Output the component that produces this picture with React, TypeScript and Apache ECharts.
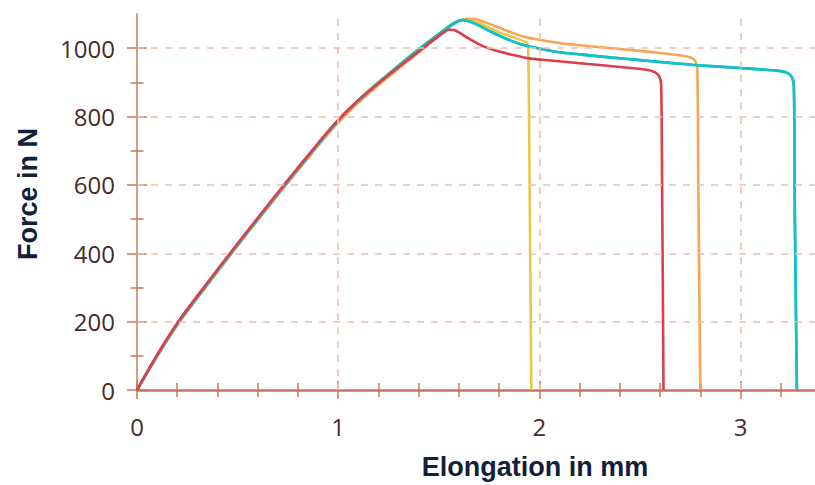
import React, { useEffect, useRef } from "react";
import * as echarts from "echarts";

// ---- tick / label values ----
const xLabelValues = [0, 1, 2, 3];
const xMajorTicks = [0, 1, 2, 3];
const xMinorTicks = [0.2, 0.4, 0.6, 0.8, 1.2, 1.4, 1.6, 1.8, 2.2, 2.4, 2.6, 2.8, 3.2];
const yLabelValues = [0, 200, 400, 600, 800, 1000];
const yMajorTicks = [0, 200, 400, 600, 800, 1000];
const yMinorTicks = [100, 300, 500, 700, 900];
const xGridValues = [1, 2, 3];
const yGridValues = [200, 400, 600, 800, 1000];

// ---- specimen curves: [elongation mm, force N] ----
const orangeCurve = [
  [0, 0], [0.1, 97], [0.207, 195], [0.34, 299], [0.47, 399], [0.605, 500], [0.74, 599],
  [0.875, 696], [0.96, 756], [1.04, 806], [1.12, 851], [1.224, 903], [1.32, 950],
  [1.415, 995], [1.5, 1035], [1.56, 1064], [1.6, 1079], [1.64, 1086], [1.68, 1085],
  [1.74, 1074], [1.8, 1060], [1.87, 1044], [1.94, 1031], [2.1, 1015], [2.3, 1003],
  [2.5, 992], [2.6, 986], [2.7, 979], [2.75, 973], [2.775, 962], [2.785, 940],
  [2.79, 600], [2.8, 0],
];
const yellowCurve = [
  [0, 0], [0.1, 99], [0.207, 197], [0.34, 301], [0.47, 401], [0.605, 502], [0.74, 602],
  [0.875, 699], [0.96, 760], [1.04, 811], [1.12, 856], [1.224, 909], [1.32, 956],
  [1.415, 1001], [1.5, 1040], [1.56, 1067], [1.6, 1080], [1.63, 1084], [1.67, 1080],
  [1.73, 1066], [1.8, 1047], [1.87, 1032], [1.925, 1020], [1.94, 1014], [1.945, 990],
  [1.95, 700], [1.96, 0],
];
const greenCurve = [
  [0, 0], [0.1, 101], [0.207, 200], [0.34, 304], [0.47, 404], [0.605, 505], [0.74, 605],
  [0.875, 702], [0.96, 763], [1.04, 814], [1.12, 859], [1.224, 912], [1.32, 959],
  [1.415, 1004], [1.5, 1042], [1.55, 1064], [1.59, 1078], [1.62, 1082], [1.65, 1079],
  [1.7, 1066], [1.76, 1048], [1.83, 1029], [1.9, 1013], [1.97, 1003], [2.1, 988],
  [2.2, 982], [2.35, 973], [2.5, 965], [2.65, 957], [2.786, 950], [3.0, 942],
  [3.2, 933], [3.235, 927], [3.255, 915], [3.265, 890], [3.27, 500], [3.28, 0],
];
const cyanCurve = [
  [0, 0], [0.1, 100], [0.207, 198], [0.34, 302], [0.47, 402], [0.605, 503], [0.74, 603],
  [0.875, 700], [0.96, 761], [1.04, 812], [1.12, 857], [1.224, 910], [1.32, 957],
  [1.415, 1002], [1.5, 1040], [1.55, 1062], [1.59, 1077], [1.62, 1082], [1.65, 1079],
  [1.7, 1066], [1.76, 1048], [1.83, 1029], [1.9, 1013], [1.97, 1003], [2.1, 988],
  [2.2, 982], [2.35, 973], [2.5, 965], [2.65, 957], [2.786, 950], [3.0, 942],
  [3.2, 933], [3.235, 927], [3.255, 915], [3.265, 890], [3.27, 500], [3.28, 0],
];
const redCurve = [
  [0, 0], [0.1, 103], [0.207, 202], [0.34, 306], [0.47, 406], [0.605, 507], [0.74, 607],
  [0.875, 704], [0.96, 764], [1.04, 814], [1.12, 858], [1.224, 909], [1.32, 954],
  [1.4, 990], [1.46, 1018], [1.5, 1036], [1.53, 1048], [1.55, 1054], [1.575, 1053],
  [1.6, 1046], [1.65, 1028], [1.72, 1006], [1.8, 990], [1.87, 980], [1.94, 971],
  [2.07, 963], [2.2, 956], [2.4, 945], [2.54, 936], [2.575, 929], [2.595, 918],
  [2.605, 895], [2.61, 600], [2.617, 0],
];

const specimens = [
  { name: "orange", data: orangeCurve, color: "#f6a556" },
  { name: "yellow", data: yellowCurve, color: "#e8c744" },
  { name: "green", data: greenCurve, color: "#22c25c" },
  { name: "cyan", data: cyanCurve, color: "#12bfd3" },
  { name: "red", data: redCurve, color: "#de3d4c" },
];

const X_MAX = 3.37;
const Y_MAX = 1100;
const tickColor = "#c4775f";
const labelColor = "#4a2a2a";
const titleColor = "#12203a";
const gridColor = "#edbfae";

export default function App() {
  const ref = useRef<HTMLDivElement>(null);

  useEffect(() => {
    document.body.style.margin = "0";
    if (!ref.current) return;
    const chart = echarts.init(ref.current, null, { renderer: "svg" });

    const labelStyle = {
      fontSize: 24,
      color: labelColor,
      fontFamily: "'Open Sans', 'Noto Sans', sans-serif",
      formatter: (v: number) => String(v),
    };

    const tickAxisX = (values: number[], half: number) => ({
      type: "value",
      min: 0,
      max: X_MAX,
      position: "bottom",
      offset: -half,
      axisLine: { show: false, onZero: false },
      axisLabel: { show: false },
      splitLine: { show: false },
      axisTick: {
        show: true,
        customValues: values,
        length: half * 2,
        lineStyle: { color: tickColor, width: 1.5 },
      },
    });
    const tickAxisY = (values: number[], half: number) => ({
      type: "value",
      min: 0,
      max: Y_MAX,
      position: "left",
      offset: -half,
      axisLine: { show: false, onZero: false },
      axisLabel: { show: false },
      splitLine: { show: false },
      axisTick: {
        show: true,
        customValues: values,
        length: half * 2,
        lineStyle: { color: tickColor, width: 1.5 },
      },
    });

    const option: any = {
      animation: false,
      backgroundColor: "#ffffff",
      grid: { left: 137, right: 0, top: 14, bottom: 95, containLabel: false },
      xAxis: [
        {
          type: "value",
          min: 0,
          max: X_MAX,
          position: "bottom",
          axisLine: { show: true, onZero: false, lineStyle: { color: "#c6765e", width: 2.5 } },
          axisTick: { show: false },
          splitLine: { show: false },
          axisLabel: { ...labelStyle, customValues: xLabelValues, margin: 24 },
        },
        tickAxisX(xMajorTicks, 9),
        tickAxisX(xMinorTicks, 7),
      ],
      yAxis: [
        {
          type: "value",
          min: 0,
          max: Y_MAX,
          position: "left",
          axisLine: { show: true, onZero: false, lineStyle: { color: "#d2a07c", width: 2 } },
          axisTick: { show: false },
          splitLine: { show: false },
          axisLabel: { ...labelStyle, customValues: yLabelValues, margin: 22 },
        },
        tickAxisY(yMajorTicks, 10),
        tickAxisY(yMinorTicks, 6.5),
      ],
      graphic: [
        {
          type: "text",
          x: 28,
          y: 194,
          rotation: Math.PI / 2,
          style: {
            text: "Force in N",
            fill: titleColor,
            font: "bold 27px 'Liberation Sans', Arial, sans-serif",
            align: "center",
            verticalAlign: "middle",
          },
        },
        {
          type: "text",
          x: 535,
          y: 467,
          style: {
            text: "Elongation in mm",
            fill: titleColor,
            font: "bold 27px 'Liberation Sans', Arial, sans-serif",
            align: "center",
            verticalAlign: "middle",
          },
        },
      ],
      series: [
        {
          type: "line",
          name: "grid",
          z: 1,
          data: [[0, 0]],
          showSymbol: false,
          symbol: "none",
          lineStyle: { opacity: 0 },
          silent: true,
          markLine: {
            silent: true,
            symbol: "none",
            label: { show: false },
            lineStyle: { color: gridColor, type: [7, 7], width: 1.6 },
            data: [
              ...yGridValues.map((v) => ({ yAxis: v })),
              ...xGridValues.map((v) => ({ xAxis: v })),
            ],
          },
        },
        ...specimens.map((s) => ({
          type: "line",
          name: s.name,
          z: 3,
          data: s.data,
          showSymbol: false,
          symbol: "none",
          smooth: 0.3,
          lineStyle: { color: s.color, width: 2.6 },
          itemStyle: { color: s.color },
        })),
      ],
    };

    chart.setOption(option);
    return () => chart.dispose();
  }, []);

  return <div ref={ref} style={{ width: 815, height: 485 }} />;
}
